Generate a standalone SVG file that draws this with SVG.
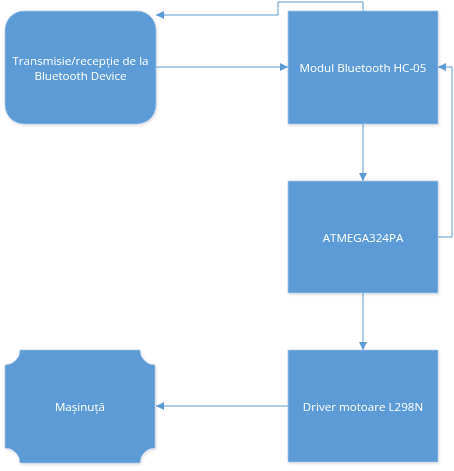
<svg xmlns="http://www.w3.org/2000/svg" width="454" height="471" viewBox="0 0 454 471">
<style>
.node{fill:#5B9BD5;stroke:#A9C6E8;stroke-width:0.75}
.lbl{font-family:"Open Sans","Noto Sans",sans-serif;font-size:11.6px;fill:#FFFFFF;text-anchor:middle}
.conn{fill:none;stroke:#5B9BD5;stroke-width:1}
</style>
<defs>
<marker id="arr" viewBox="0 0 10 10" refX="10" refY="5" markerWidth="8" markerHeight="8" markerUnits="userSpaceOnUse" orient="auto">
<path d="M0,0 L10,5 L0,10 z" fill="#5B9BD5"/>
</marker>
<filter id="sh" x="-10%" y="-10%" width="120%" height="120%">
<feDropShadow dx="1" dy="1.5" stdDeviation="1" flood-color="#000" flood-opacity="0.12"/>
</filter>
</defs>
<g id="connectors">
<polyline class="conn" points="363,11 363,2 278,2 278,15 156,15" marker-end="url(#arr)"/>
<line class="conn" x1="156" y1="67" x2="288" y2="67" marker-end="url(#arr)"/>
<line class="conn" x1="363" y1="124" x2="363" y2="181" marker-end="url(#arr)"/>
<polyline class="conn" points="438,237 452,237 452,67 438,67" marker-end="url(#arr)"/>
<line class="conn" x1="363" y1="293" x2="363" y2="350" marker-end="url(#arr)"/>
<line class="conn" x1="288" y1="406" x2="156" y2="406" marker-end="url(#arr)"/>
</g>
<g id="node-transmisie" filter="url(#sh)">
<rect class="node" x="5" y="11" width="151" height="113" rx="19" ry="19"/>
<text class="lbl" x="80.5" y="65">Transmisie/recepție de la</text>
<text class="lbl" x="80.5" y="79.5">Bluetooth Device</text>
</g>
<g id="node-modul" filter="url(#sh)">
<rect class="node" x="288" y="11" width="150" height="113"/>
<text class="lbl" x="363" y="71.5">Modul Bluetooth HC-05</text>
</g>
<g id="node-atmega" filter="url(#sh)">
<rect class="node" x="288" y="181" width="150" height="112"/>
<text class="lbl" x="363" y="241.5">ATMEGA324PA</text>
</g>
<g id="node-driver" filter="url(#sh)">
<rect class="node" x="288" y="350" width="150" height="112"/>
<text class="lbl" x="363" y="410.5">Driver motoare L298N</text>
</g>
<g id="node-masinuta" filter="url(#sh)">
<path class="node" d="M20,350 L140,350 A15,15 0 0 0 155,365 L155,448 A15,15 0 0 0 140,463 L20,463 A15,15 0 0 0 5,448 L5,365 A15,15 0 0 0 20,350 Z"/>
<text class="lbl" x="80" y="410.5">Mașinuță</text>
</g>
</svg>
